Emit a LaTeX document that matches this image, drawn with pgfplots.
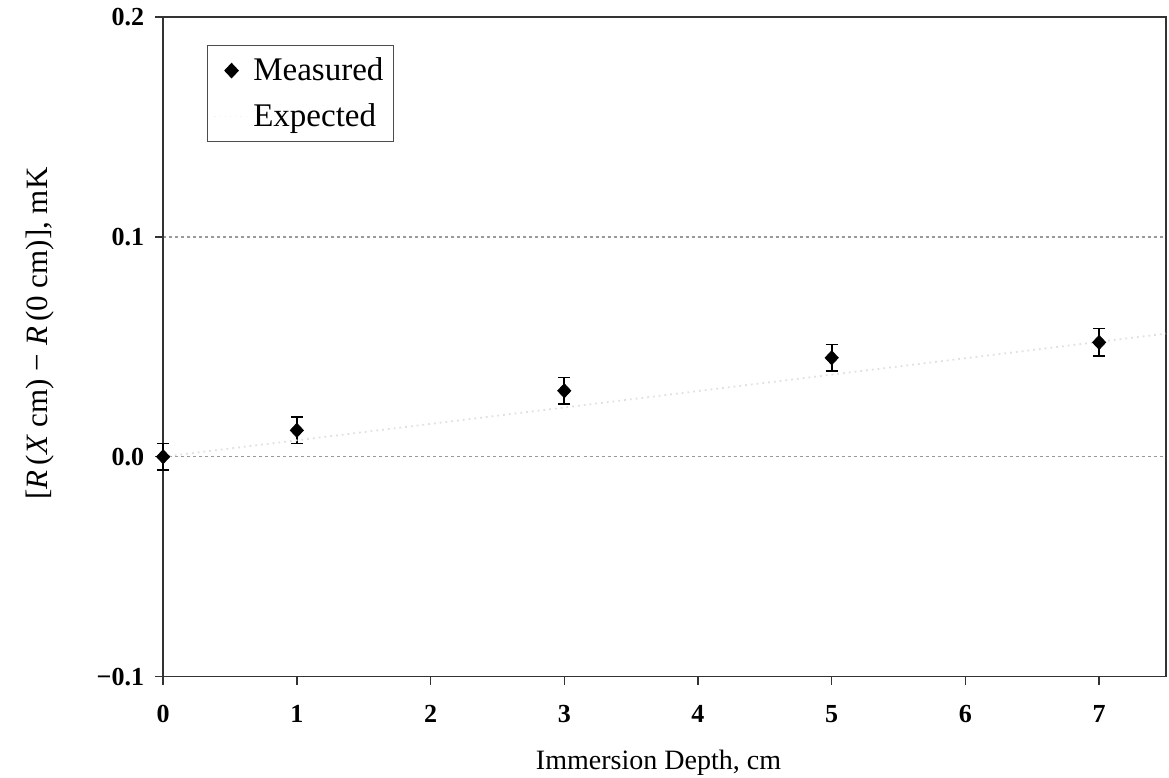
\documentclass[border=0pt]{standalone}
\usepackage{pgfplots}
\pgfplotsset{compat=1.18}
\usepackage{fontspec}
\setmainfont{Liberation Serif}

% Immersion-depth test: resistance change relative to 0 cm
\pgfplotstableread{
depth  dR     err
0      0.000  0.006
1      0.012  0.006
3      0.030  0.006
5      0.045  0.006
7      0.052  0.0063
}\measured

\pgfplotstableread{
depth  dR
0      0.000
7.5    0.056
}\expected

\begin{document}
\begin{tikzpicture}
\begin{axis}[
  name=ax,
  scale only axis,
  width=501pt, height=329.5pt,
  xmin=0, xmax=7.5,
  ymin=-0.1, ymax=0.2,
  xtick={0,1,2,3,4,5,6,7},
  xticklabels={0,1,2,3,4,5,6,7},
  ytick={-0.1,0,0.1,0.2},
  yticklabels={−0.1,0.0,0.1,0.2},
  xtick pos=bottom, ytick pos=left,
  tick align=outside,
  major tick length=4pt,
  tick style={black!80, line width=0.7pt},
  axis line style={black!80, line width=0.8pt},
  ymajorgrids,
  grid style={gray!80, line width=0.7pt, dash pattern=on 1.5pt off 1.5pt},
  tick label style={font=\fontsize{13}{15}\selectfont\bfseries},
  xticklabel style={yshift=-7pt},
  yticklabel style={xshift=-2pt},
  xlabel={Immersion Depth, cm},
  ylabel={[\textit{R}\,(\textit{X} cm) − \textit{R}\,(0 cm)], mK},
  xlabel style={font=\fontsize{14}{16}\selectfont, at={(axis description cs:0.494,-0.13)}, anchor=center},
  ylabel style={font=\fontsize{15.5}{17}\selectfont, at={(axis description cs:-0.123,0.52)}, anchor=center, rotate=0},
  legend cell align=left,
  legend style={
    at={(rel axis cs:0.044,0.9575)}, anchor=north west,
    font=\fontsize{16.5}{19}\selectfont,
    draw=black!70, line width=0.6pt,
    inner xsep=3pt, inner ysep=4pt,
    row sep=6pt,
  },
  clip=false,
]
\addplot[
  only marks, mark=diamond*, mark size=3.5pt, black,
  mark options={xscale=1.25},
  error bars/.cd, y dir=both, y explicit,
  error bar style={line width=0.9pt, black},
  error mark options={rotate=90, mark size=3pt, line width=0.9pt, black},
] table[x=depth, y=dR, y error=err] {\measured};
\addlegendentry{Measured}

\addplot[
  black!12, line width=0.9pt, dotted, no marks,
  legend image code/.code={\draw[black!5, line width=0.6pt, dotted] (0cm,0cm) -- (0.6cm,0cm);},
] table[x=depth, y=dR] {\expected};
\addlegendentry{Expected}
\end{axis}
\pgfresetboundingbox
\path ([shift={(-81.5pt,-50.5pt)}]ax.south west) rectangle ([shift={(1.5pt,8.5pt)}]ax.north east);
\end{tikzpicture}
\end{document}
